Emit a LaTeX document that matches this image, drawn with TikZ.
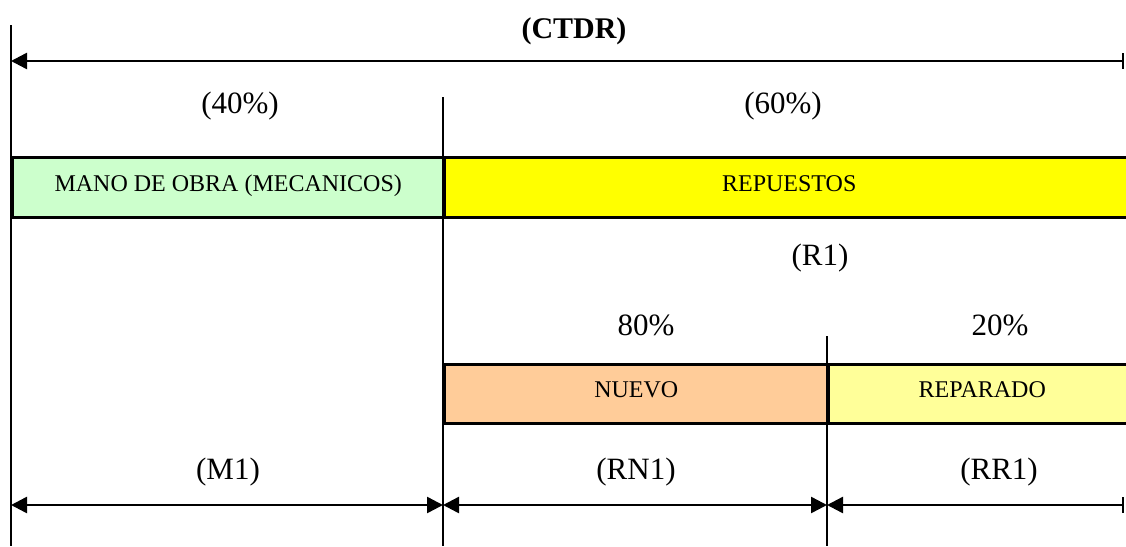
\documentclass[tikz,border=0pt]{standalone}
\usepackage{fontspec}
\setmainfont{Liberation Serif}
\usetikzlibrary{arrows.meta}

\definecolor{labourgreen}{HTML}{CCFFCC}
\definecolor{partsyellow}{HTML}{FFFF00}
\definecolor{neworange}{HTML}{FFCC99}
\definecolor{repairyellow}{HTML}{FFFF99}

\tikzset{
  guide/.style={line width=2.5pt},
  bar/.style={draw=black, line width=2.5pt, anchor=north west, inner sep=0pt,
    align=center, text height=16pt, text depth=8pt,
    font=\fontsize{24}{28}\selectfont},
  share/.style={anchor=base, inner sep=0pt, font=\fontsize{31}{36}\selectfont},
  tip/.tip={Triangle[length=16pt,width=16pt]},
  stop/.tip={Bar[width=16pt]},
  span/.style={line width=2.5pt, tip-tip},
  spanend/.style={line width=2.5pt, tip-stop},
}

\begin{document}
\begin{tikzpicture}[x=1pt,y=-1pt]
  \useasboundingbox (0,0) rectangle (1126,546);

  % cost blocks
  \node[bar, fill=labourgreen, minimum width=432pt, minimum height=60pt]
    (mano) at (11,156) {MANO DE OBRA (MECANICOS)};
  \node[bar, fill=partsyellow, minimum width=690pt, minimum height=60pt,
    text width=683pt] (rep) at (443,156) {REPUESTOS};
  \node[bar, fill=neworange, minimum width=384pt, minimum height=59pt]
    (nuevo) at (443,363) {NUEVO};
  \node[bar, fill=repairyellow, minimum width=310pt, minimum height=59pt,
    text width=320pt] (repar) at (827,363) {\hspace*{-12pt}REPARADO};

  % division lines
  \coordinate (v0t) at (11,25);   \coordinate (v0b) at (11,546);
  \coordinate (v1t) at (443,97);  \coordinate (v1b) at (443,546);
  \coordinate (v2t) at (827,336); \coordinate (v2b) at (827,546);
  \draw[guide] (v0t) -- (v0b);
  \draw[guide] (v1t) -- (v1b);
  \draw[guide] (v2t) -- (v2b);

  % total span
  \coordinate (tL) at (11,61);
  \coordinate (tR) at (1124,61);
  \draw[spanend] (tL) -- (tR);
  \node[share, font=\fontsize{30}{36}\selectfont\bfseries] (ctdr) at (574,38) {(CTDR)};

  % shares
  \node[share] (p40) at (240,113) {(40\%)};
  \node[share] (p60) at (783,113) {(60\%)};
  \node[share] (r1)  at (820,265) {(R1)};
  \node[share] (p80) at (646,335) {80\%};
  \node[share] (p20) at (1000,335) {20\%};

  % partial spans
  \coordinate (b0) at (11,505);
  \coordinate (b1) at (443,505);
  \coordinate (b2) at (827,505);
  \coordinate (b3) at (1124,505);
  \draw[span] (b0) -- (b1);
  \draw[span] (b1) -- (b2);
  \draw[spanend] (b2) -- (b3);
  \node[share] (m1)  at (228,479) {(M1)};
  \node[share] (rn1) at (636,479) {(RN1)};
  \node[share] (rr1) at (999,479) {(RR1)};
\end{tikzpicture}
\end{document}
